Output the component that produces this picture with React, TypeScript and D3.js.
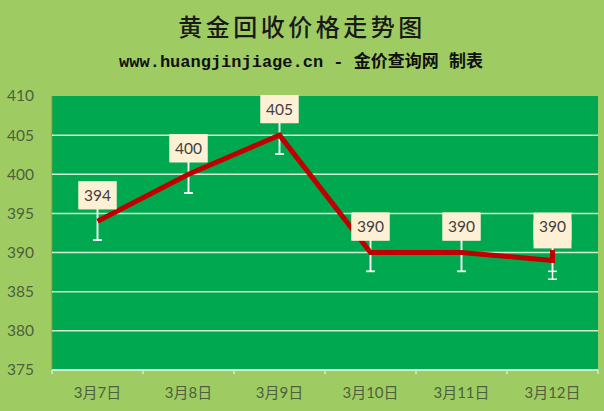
import React from "react";
import * as d3 from "d3";

const categories = ["3月7日", "3月8日", "3月9日", "3月10日", "3月11日", "3月12日"];
const labelValues = [394, 400, 405, 390, 390, 390];
const lineValues = [394, 400, 405, 390, 390, 389];
const errorAmount = 2.4;
const yTicks = [375, 380, 385, 390, 395, 400, 405, 410];
const title = "黄金回收价格走势图";
const subtitle = "www.huangjinjiage.cn - 金价查询网 制表";

const W = 604, H = 411;
const M = { left: 52, right: 6, top: 96, bottom: 41 };

export default function App() {
  const x = d3.scaleBand<string>().domain(categories).range([M.left, W - M.right]).padding(0);
  const y = d3.scaleLinear().domain([375, 410]).range([H - M.bottom, M.top]);
  const cx = (c: string) => (x(c) as number) + x.bandwidth() / 2;
  const line = d3.line<number>().x((_, i) => cx(categories[i])).y((v) => y(v));
  const last = categories[categories.length - 1];
  const stub = d3.line<number>().x(() => cx(last)).y((v) => y(v));
  const boxW = 38, boxH = 28, boxOff = 26;
  const bounds = [M.left, ...categories.map((c) => (x(c) as number) + x.bandwidth())];
  const font = "Lato, 'Noto Sans CJK SC', sans-serif";
  const errBar = (v: number, c: string, k: string) => {
    const px = cx(c);
    return (
      <g key={k} stroke="#ffffff" strokeWidth={1.5}>
        <line x1={px} x2={px} y1={y(v - errorAmount)} y2={y(v + errorAmount)} />
        <line x1={px - 4.5} x2={px + 4.5} y1={y(v - errorAmount)} y2={y(v - errorAmount)} />
        <line x1={px - 4.5} x2={px + 4.5} y1={y(v + errorAmount)} y2={y(v + errorAmount)} />
      </g>
    );
  };
  return (
    <svg width={W} height={H} style={{ position: "absolute", left: 0, top: 0 }}>
      <rect width={W} height={H} fill="#9ECC63" />
      <text x={W / 2} y={36} textAnchor="middle" fontSize={24} letterSpacing={3.5} fill="#1a1a1a"
        fontFamily="'Noto Sans CJK SC', serif" fontWeight={500}>{title}</text>
      <text x={301} y={67} textAnchor="middle" fontSize={17} fill="#111" fontWeight="bold"
        fontFamily="'Liberation Mono', 'Noto Sans CJK SC', monospace">{subtitle}</text>
      <rect x={M.left} y={M.top} width={W - M.left - M.right} height={H - M.top - M.bottom} fill="#00A84F" />
      <line x1={M.left} x2={M.left} y1={M.top} y2={H - M.bottom} stroke="#6f9a45" strokeWidth={1} />
      {yTicks.filter((t) => t > 375 && t < 410).map((t) => (
        <line key={t} x1={M.left} x2={W - M.right} y1={y(t)} y2={y(t)} stroke="#d6ecd2" strokeWidth={1.5} />
      ))}
      <line x1={M.left} x2={W - M.right} y1={y(375)} y2={y(375)} stroke="#d6ecd2" strokeWidth={2} />
      {bounds.map((b, i) => (
        <line key={i} x1={b} x2={b} y1={y(375)} y2={y(375) + 4} stroke="#d6ecd2" strokeWidth={1.5} />
      ))}
      {yTicks.map((t) => (
        <text key={t} x={34} y={y(t)} dy="0.35em" textAnchor="end" fontSize={15.5} fill="#4f5f3c" fontFamily={font}>{t}</text>
      ))}
      {categories.map((c) => (
        <text key={c} x={cx(c)} y={393} dy="0.35em" textAnchor="middle" fontSize={15} fill="#4f5f3c" fontFamily={font}>{c}</text>
      ))}
      {labelValues.map((v, i) => errBar(v, categories[i], "a" + i))}
      {lineValues.map((v, i) => errBar(v, categories[i], "b" + i))}
      <path d={line(lineValues) || ""} fill="none" stroke="#C00000" strokeWidth={5} strokeLinejoin="miter" />
      <path d={stub([lineValues[lineValues.length - 1], labelValues[labelValues.length - 1]]) || ""}
        fill="none" stroke="#C00000" strokeWidth={5} strokeLinecap="square" />
      {lineValues.map((v, i) => (
        <rect key={"bb" + i} x={cx(categories[i]) - boxW / 2} y={y(v) - boxOff - boxH / 2} width={boxW} height={boxH} fill="#FDF0D5" />
      ))}
      {labelValues.map((v, i) => (
        <g key={"lb" + i}>
          <rect x={cx(categories[i]) - boxW / 2} y={y(v) - boxOff - boxH / 2} width={boxW} height={boxH} fill="#FDF0D5" />
          <text x={cx(categories[i])} y={y(v) - boxOff} dy="0.35em" textAnchor="middle" fontSize={15.5} fill="#404040" fontFamily={font}>{v}</text>
        </g>
      ))}
    </svg>
  );
}
